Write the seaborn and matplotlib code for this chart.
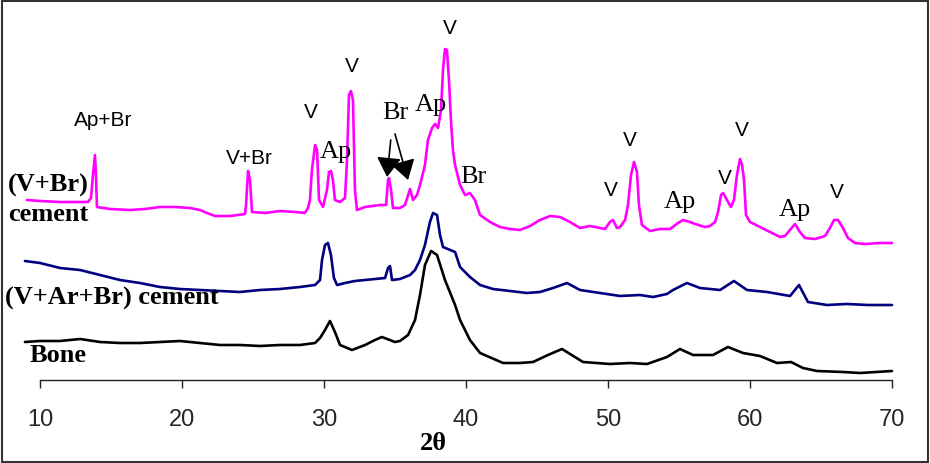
import matplotlib
matplotlib.use("Agg")
import matplotlib.pyplot as plt
import seaborn as sns
import pandas as pd
from matplotlib.patches import Rectangle

# ---- data (2θ in degrees, intensity in arbitrary units, offset per trace) ----
vbr_2theta = [9.08, 10.0, 11.41, 13.38, 13.59, 13.73, 13.87, 13.94, 14.01, 14.93, 16.34, 17.39,
              18.45, 19.51, 20.56, 21.27, 21.76, 22.32, 23.38, 24.44, 24.51, 24.65, 24.79, 24.93,
              25.85, 26.90, 27.96, 28.66, 28.87, 29.01, 29.15, 29.37, 29.51, 29.65, 29.93, 30.21,
              30.35, 30.49, 30.63, 30.77, 31.13, 31.48, 31.62, 31.76, 31.90, 32.04, 32.18, 32.32,
              32.89, 33.94, 34.37, 34.51, 34.58, 34.72, 34.86, 35.35, 35.70, 35.92, 36.06, 36.27,
              36.55, 36.76, 37.11, 37.32, 37.61, 37.82, 38.03, 38.24, 38.38, 38.52, 38.66, 38.80,
              38.94, 39.08, 39.23, 39.58, 39.93, 40.28, 40.63, 40.99, 41.69, 42.39, 43.10, 43.80,
              44.51, 45.21, 45.92, 46.62, 47.32, 48.03, 48.73, 49.44, 49.79, 50.14, 50.35, 50.63,
              50.85, 51.20, 51.41, 51.62, 51.83, 52.04, 52.18, 52.39, 52.96, 53.66, 54.37, 54.93,
              55.28, 55.77, 56.13, 56.83, 57.18, 57.54, 57.75, 57.96, 58.10, 58.38, 58.66, 58.87,
              59.08, 59.30, 59.44, 59.58, 59.72, 60.00, 60.70, 61.41, 62.11, 62.46, 62.82, 63.17,
              63.52, 63.87, 64.58, 65.28, 65.63, 65.92, 66.20, 66.55, 66.90, 67.39, 68.10, 69.15,
              70.00]
vbr_int = [180, 179, 178, 178, 182, 205, 225, 205, 173, 171, 170, 171,
           173, 173, 172, 170, 167, 164, 164, 166, 175, 209, 200, 168,
           167, 169, 168, 167, 172, 180, 210, 235, 230, 180, 173, 190,
           208, 209, 200, 180, 178, 182, 220, 285, 289, 280, 190, 170,
           173, 175, 175, 200, 202, 190, 172, 172, 175, 185, 191, 180,
           185, 195, 215, 240, 252, 256, 252, 270, 310, 331, 330, 300,
           260, 230, 215, 195, 185, 187, 180, 165, 158, 153, 151, 150,
           154, 160, 164, 163, 158, 152, 154, 152, 151, 158, 160, 152,
           153, 160, 175, 205, 218, 208, 175, 155, 149, 151, 151, 157,
           160, 158, 156, 153, 154, 158, 168, 185, 187, 180, 173, 180,
           205, 221, 215, 200, 165, 158, 153, 148, 143, 144, 150, 156,
           148, 142, 141, 144, 152, 160, 160, 152, 142, 137, 136, 137,
           137]

varbr_2theta = [8.94, 10.0, 11.41, 12.82, 14.23, 15.63, 17.04, 18.45, 19.86, 21.27, 22.68, 24.08,
                25.49, 26.90, 28.31, 29.37, 29.72, 29.86, 30.07, 30.28, 30.49, 30.70, 30.92, 31.48,
                32.18, 32.89, 33.59, 34.30, 34.51, 34.65, 34.79, 35.35, 36.06, 36.41, 36.76, 37.11,
                37.46, 37.68, 37.96, 38.17, 38.38, 39.23, 39.58, 40.28, 40.99, 41.90, 43.10, 44.30,
                45.21, 46.13, 47.11, 48.03, 49.44, 50.85, 52.25, 53.17, 54.15, 54.58, 55.56, 56.48,
                57.89, 58.87, 59.79, 61.20, 62.82, 63.45, 64.08, 65.42, 66.80, 68.30, 70.00]
varbr_int = [119, 117, 112, 110, 105, 100, 97, 93, 91, 90, 89, 88,
             90, 91, 93, 95, 100, 120, 135, 137, 125, 102, 95, 97,
             99, 100, 101, 102, 112, 114, 100, 101, 105, 110, 120, 135,
             158, 167, 165, 145, 133, 128, 113, 103, 95, 91, 89, 87,
             88, 92, 97, 90, 87, 84, 85, 83, 86, 90, 97, 92,
             90, 99, 90, 88, 84, 95, 78, 75, 76, 75, 75]

bone_2theta = [8.94, 10.0, 11.41, 12.82, 14.23, 15.63, 17.04, 18.45, 19.86, 21.27, 22.68, 24.08,
               25.49, 26.90, 28.31, 29.37, 29.72, 30.07, 30.42, 30.77, 31.13, 31.97, 32.89, 33.59,
               34.08, 35.00, 35.35, 35.92, 36.41, 36.76, 37.11, 37.54, 37.96, 38.52, 39.23, 39.58,
               40.28, 40.99, 42.61, 43.80, 44.72, 45.77, 46.76, 48.24, 50.14, 51.55, 52.75, 54.15,
               55.07, 55.99, 57.39, 58.45, 59.51, 60.70, 61.90, 62.89, 63.73, 64.72, 66.55, 67.75,
               70.00]
bone_int = [38, 39, 39, 41, 38, 37, 37, 38, 39, 37, 35, 35,
            34, 35, 35, 37, 42, 50, 59, 48, 35, 30, 35, 40,
            43, 38, 39, 45, 60, 85, 115, 129, 125, 100, 75, 60,
            40, 27, 17, 17, 18, 25, 31, 18, 16, 17, 16, 23,
            31, 25, 25, 33, 27, 24, 17, 18, 12, 9, 8, 7,
            9]

series_names = ["(V+Br) cement", "(V+Ar+Br) cement", "Bone"]
series_colors = ["#ff00ff", "#000080", "#000000"]

# peak labels: (text, 2θ, intensity, style)
peak_labels = [
    ("Ap+Br", 14.44, 260, "sans"), ("V+Br", 24.72, 221, "sans"), ("V", 29.08, 267, "sans"),
    ("Ap", 30.85, 228, "serif"), ("V", 31.97, 314, "sans"), ("Br", 35.0, 267, "serif"),
    ("Ap", 37.54, 275, "serif"), ("V", 38.87, 352, "sans"), ("Br", 40.49, 203, "serif"),
    ("V", 50.21, 190, "sans"), ("V", 51.55, 240, "sans"), ("Ap", 55.07, 178, "serif"),
    ("V", 58.24, 202, "sans"), ("V", 59.44, 250, "sans"), ("Ap", 63.17, 170, "serif"),
    ("V", 66.13, 188, "sans"),
]
# arrows from the "Br" label to the Br peaks: (tail 2θ, tail I, tip 2θ, tip I)
br_arrows = [(34.70, 240, 34.44, 203), (35.0, 246, 35.92, 200)]

xticks = [10, 20, 30, 40, 50, 60, 70]

# ---- build table ----
frames = []
for name, tt, ii in zip(series_names, [vbr_2theta, varbr_2theta, bone_2theta],
                        [vbr_int, varbr_int, bone_int]):
    frames.append(pd.DataFrame({"2theta": tt, "intensity": ii, "sample": name}))
df = pd.concat(frames, ignore_index=True)

sns.set_style("white")
plt.rcParams["font.family"] = ["Liberation Sans", "DejaVu Sans"]

W, H = 930, 463
fig = plt.figure(figsize=(W / 100, H / 100), dpi=100)
ax = fig.add_axes([11.6 / W, 83 / H, (906.2 - 11.6) / W, 375 / H])

sns.lineplot(data=df, x="2theta", y="intensity", hue="sample", palette=series_colors,
             hue_order=series_names, estimator=None, sort=False, linewidth=1.9,
             legend=False, ax=ax)

ax.set_xlim(8, 71)
ax.set_ylim(0, 375)
for s in ["left", "top", "right"]:
    ax.spines[s].set_visible(False)
ax.spines["bottom"].set_bounds(10, 70)
ax.spines["bottom"].set_linewidth(1.0)
ax.spines["bottom"].set_color("#222222")
ax.set_xticks(xticks)
ax.set_yticks([])
ax.tick_params(axis="x", bottom=True, direction="out", length=6, width=1.0, color="#222222",
               labelsize=17, pad=15)
ax.set_xlabel("")
ax.set_ylabel("")
ax.patch.set_alpha(0)

for txt, x, y, style in peak_labels:
    if style == "sans":
        ax.text(x, y, txt, ha="center", va="center", fontsize=15,
                family="Liberation Sans", color="black")
    else:
        ax.text(x, y, txt, ha="center", va="center", fontsize=19,
                family="Liberation Serif", color="black")

for x0, y0, x1, y1 in br_arrows:
    ax.annotate("", xy=(x1, y1), xytext=(x0, y0),
                arrowprops=dict(arrowstyle="-|>,head_length=1.2,head_width=0.75",
                                color="black", lw=1.2, shrinkA=0, shrinkB=0))

serif_bold = dict(family="Liberation Serif", fontweight="bold", fontsize=19, color="black")
fig.text(8 / W, 1 - 185 / H, "(V+Br)", ha="left", va="center", **serif_bold)
fig.text(8 / W, 1 - 214 / H, "cement", ha="left", va="center", **serif_bold)
fig.text(5 / W, 1 - 298 / H, "(V+Ar+Br) cement", ha="left", va="center", **serif_bold)
fig.text(30 / W, 1 - 356 / H, "Bone", ha="left", va="center", **serif_bold)
fig.text(433 / W, 1 - 443 / H, "2θ", ha="center", va="center", **serif_bold)

fig.patches.append(Rectangle((0.002, 0.003), 0.996, 0.994, transform=fig.transFigure,
                             fill=False, edgecolor="#333333", linewidth=1.5))

fig.savefig("out.png", dpi=100)
